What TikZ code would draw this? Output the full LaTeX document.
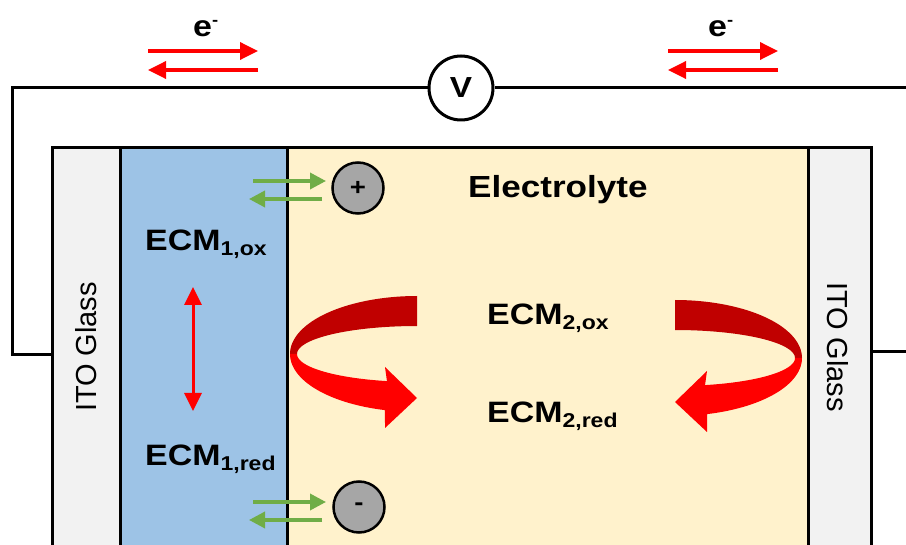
\documentclass[tikz,border=0pt]{standalone}
\usepackage{fontspec}
\setmainfont{Liberation Sans}
\newfontfamily\widefont{Liberation Sans}[FakeStretch=1.15]
\usetikzlibrary{arrows.meta}
\tikzset{>={Triangle[length=18pt,width=17pt]}}
\definecolor{glass}{HTML}{F2F2F2}
\definecolor{ecmblue}{HTML}{9DC3E6}
\definecolor{elyte}{HTML}{FFF2CC}
\definecolor{darkred}{HTML}{C00000}
\definecolor{iongreen}{HTML}{70AD47}
\definecolor{iongray}{HTML}{A6A6A6}
\newcommand\ecm[2]{ECM\raisebox{-5pt}{\fontsize{20}{20}\selectfont #1,#2}}
\newcommand\elec{e\raisebox{11pt}{\fontsize{16}{16}\selectfont -}}

\begin{document}
\begin{tikzpicture}[x=1pt, y=-1pt,
  layer/.style={draw, line width=3pt, inner sep=0pt, outer sep=0pt, minimum height=398pt},
  wire/.style={line width=3pt},
  lbl/.style={inner sep=0pt, anchor=base west, font=\widefont\bfseries\fontsize{29.5}{29.5}\selectfont},
  glasslbl/.style={inner sep=0pt, font=\fontsize{29}{29}\selectfont},
  eflow/.style={->, red, line width=3.5pt},
  ionflow/.style={->, iongreen, line width=3.5pt, >={Triangle[length=16pt,width=16pt]}},
  ion/.style={circle, draw, line width=2.5pt, fill=iongray, minimum size=51pt, inner sep=0pt, font=\widefont\bfseries\fontsize{24}{24}\selectfont},
  swirlback/.style={fill=darkred},
  swirlfront/.style={fill=red}]
\useasboundingbox (0,0) rectangle (906,545);
\node[layer, fill=glass, minimum width=68pt] (itoL) at (86,347) {};
\node[layer, fill=ecmblue, minimum width=167pt] (ecm1) at (203.5,347) {};
\node[layer, fill=elyte, minimum width=521pt] (elyte) at (547.5,347) {};
\node[layer, fill=glass, minimum width=63pt] (itoR) at (839.5,347) {};
\node[circle, draw, line width=3pt, fill=white, minimum size=64pt, inner sep=0pt,
  font=\widefont\bfseries\fontsize{29}{29}\selectfont] (volt) at (461,88) {V};
\coordinate (cornerL) at (12,88);
\coordinate (endT) at (906,88);
\coordinate (endR) at (906,352);
\draw[wire] ([yshift=-8pt]itoL.west) -| (cornerL) -- (volt.west);
\draw[wire] (volt.east) -- (endT);
\draw[wire] ([yshift=-5pt]itoR.east) -- (endR);
\node[glasslbl, rotate=90] (glassL) at (86,347) {ITO Glass};
\node[glasslbl, rotate=-90] (glassR) at (838,347) {ITO Glass};
\node[lbl, font=\widefont\bfseries\fontsize{30.5}{30.5}\selectfont] (elytelbl) at (468,198) {Electrolyte};
\node[lbl] (ecm1ox) at (145,251) {\ecm{1}{ox}};
\node[lbl] (ecm1red) at (145,466) {\ecm{1}{red}};
\node[lbl] (ecm2ox) at (487,325) {\ecm{2}{ox}};
\node[lbl] (ecm2red) at (487,423) {\ecm{2}{red}};
\node[lbl] (eL) at (193,37) {\elec};
\node[lbl] (eR) at (708,37) {\elec};
\node[ion] (plus) at (358,188) {+};
\node[ion] (minus) at (359,507) {-};
\foreach \s/\x in {L/148, R/668} {
  \coordinate (e\s a) at (\x,51); \coordinate (e\s b) at (\x+110,51);
  \coordinate (e\s c) at (\x+110,70); \coordinate (e\s d) at (\x,70);
  \draw[eflow] (e\s a) -- (e\s b); \draw[eflow] (e\s c) -- (e\s d);
}
\foreach \s/\y in {P/181, M/502} {
  \coordinate (i\s a) at (253,\y); \coordinate (i\s b) at (326,\y);
  \coordinate (i\s c) at (322,\y+18); \coordinate (i\s d) at (249,\y+18);
  \draw[ionflow] (i\s a) -- (i\s b); \draw[ionflow] (i\s c) -- (i\s d);
}
\coordinate (redoxT) at (193,287);
\coordinate (redoxB) at (193,411);
\draw[<->, red, line width=3pt] (redoxT) -- (redoxB);
\foreach \cx/\cy/\sx in {417/354/1, 675/358/-1} {
  \begin{scope}[shift={(\cx,\cy)}, xscale=\sx]
    \fill[swirlback] plot[domain=90:180, samples=40, variable=\t] ({127*cos(\t)},{-58*sin(\t)})
      -- plot[domain=180:90, samples=40, variable=\t] ({120*cos(\t)},{-28*sin(\t)}) -- cycle;
    \fill[swirlfront] plot[domain=180:255.4, samples=40, variable=\t] ({127*cos(\t)},{-58*sin(\t)})
      -- (-32,74) -- (0,44) -- (-32,13)
      -- plot[domain=255.5:180, samples=40, variable=\t] ({120*cos(\t)},{-28*sin(\t)}) -- cycle;
  \end{scope}
}
\end{tikzpicture}
\end{document}
